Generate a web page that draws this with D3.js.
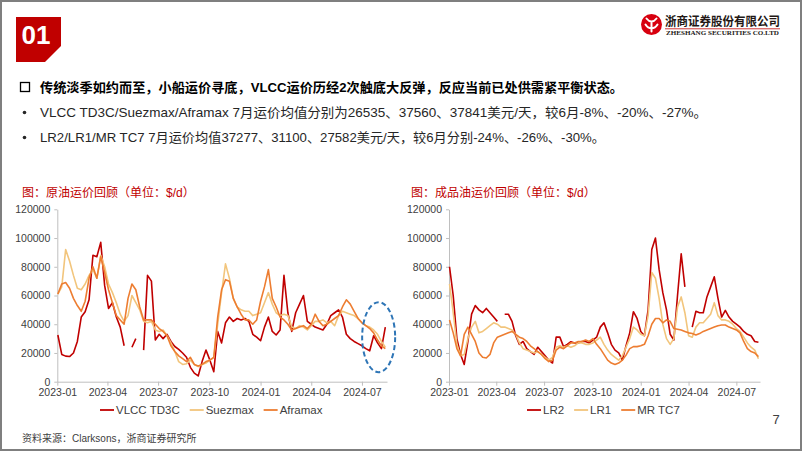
<!DOCTYPE html>
<html>
<head>
<meta charset="utf-8">
<script src="https://cdn.jsdelivr.net/npm/d3@7"></script>
<style>
  html, body { margin: 0; padding: 0; background: #fff; }
  svg { display: block; font-family: "Liberation Sans", Arial, "Noto Sans CJK SC", sans-serif; }
</style>
</head>
<body>
<svg id="page" width="802" height="451"></svg>
<script>
// weekly samples from 2023-01-02, values in thousand $/d (null = no quote)
const UNIT = 1000
const startDate = new Date(2023, 0, 2)

// 原油
const vlcc = [32.5,19,17.8,17.5,20,28,45,48.7,57,88,87,97,67,51,55,45,38,25,null,24,30,null,22,74,70,29,33,30,33,28,24.5,22.5,20,17,10,6,4,14,22,15,7,35,27,41,45,42,44,43,44,42,33,31,28.5,38,45,35,32.5,36,74,48,35,48,54,60,42,40,38,37,36,40,46,48,50,45,33,30,28,26.5,25,23,21.5,32,27,23,38]
const suezmax = [61,66,92,84,74,65,64,68,74,78,72,88,80,68,62,55,47,42,46,60,55,50,42,41,42,36,35,36,32,27,21,14,12,12.5,15,12,10.5,12,13,15,17,40,62,82,72,58,52,50,49,49,46,47,48,55,62,54,48,46,47,46,38,37,39,38,36,39,42,42,43,41,42,39,46,49,48,47,46,44,41,39,38,36,33,28,24]
const aframax = [61,68,69,65,58,53,49,56,72,80,72,87,76,64,55,46,43,40,58,68,64,52,43,43,43,40,37,35,32,25,21,18,16,14,17,12,11,12,14,15,17,45,64,71,70,58,52,47,43,43,40,43,56,66,78,58,52,45,43,40,36,37,38,39,37,40,47,42,39,40,42,44,46,52,57,54,49,44,41,39,37,34,29,25,23]

// 成品油
const lr2 = [80,60,30,19,12,28,47,53,50,48,51,48,45,42,null,47,47,42,32,26,28,23,21,19,24,21,18,15,13,31,31,24.4,26,27.8,27,27,28,28,27,29,31,38,41,34,26,22,20,15,25,34,48.7,44,35,32,50,92,100,78,62,50,33,29,60,89,66,null,38,49,48,48,59,66,73,58,45,49.6,45,42,40,38,35,33,32,28,27.5]
const lr1 = [68,48,26,18,19,30,38,42,34,35,37,39,41,40,38,38,37,36,33,27,23,22,21,20,21,19,17,15,17,24,25,24,25,24,25,27,27,26,26,27,29,31,26,22,19,17,15,18,24,30,38,36,33,32,46,76,72,58,40,30,26,30,52,59,48,32,31,38,41,41,44,47,55,46,43,43,42,40,37,35,31,27,24,22,16]
const mrTc7 = [43,34,23,18,33,38,33,28,20,17,16.5,19,27,31,32,33,34,35,33,31,30,28,25,23,21,19,16,14,15,22,24,23,25,27,27,28,28,29,28,30,26,23,19,15,13,12,13,15,18.5,23,24.4,24.4,25,26,32,40,44,44,41,43,42,37,36.5,36,35,34,33.5,32.5,33.5,35,36,37,38,39,39.5,39.5,38,37,36,34,28,23,21,20,17.5]

const crudeNames = ['VLCC TD3C', 'Suezmax', 'Aframax']
const productNames = ['LR2', 'LR1', 'MR TC7']
const seriesColors = ['#c00000', '#f2c57c', '#ed7d31']

const yTicks = [0, 20000, 40000, 60000, 80000, 100000, 120000]
const xTickLabels = ['2023-01', '2023-04', '2023-07', '2023-10', '2024-01', '2024-04', '2024-07']

const headline = '传统淡季如约而至，小船运价寻底，VLCC运价历经2次触底大反弹，反应当前已处供需紧平衡状态。'
const bullets = [
  'VLCC TD3C/Suezmax/Aframax 7月运价均值分别为26535、37560、37841美元/天，较6月-8%、-20%、-27%。',
  'LR2/LR1/MR TC7 7月运价均值37277、31100、27582美元/天，较6月分别-24%、-26%、-30%。'
]
const titles = ['图：原油运价回顾（单位：$/d）', '图：成品油运价回顾（单位：$/d）']
const source = '资料来源：Clarksons，浙商证券研究所'

const parseMonth = d3.timeParse('%Y-%m')
const weeks = vlcc.map((d, i) => d3.timeDay.offset(startDate, 7 * i))

const svg = d3.select('#page')

// frame
svg.append('rect').attr('x', 1).attr('y', 1).attr('width', 800).attr('height', 449)
  .attr('fill', '#fff').attr('stroke', '#7f7f7f').attr('stroke-width', 2)

// 01 badge
svg.append('path')
  .attr('d', 'M16,17 L61,17 L61,46 L45,62 L16,62 Z')
  .attr('fill', '#c00000')
svg.append('text').attr('x', 36).attr('y', 44)
  .attr('text-anchor', 'middle').attr('fill', '#fff')
  .style('font-size', '26px').style('font-weight', 'bold')
  .text('01')

// logo
const logo = svg.append('g').attr('transform', 'translate(651.5,24.5)')
logo.append('circle').attr('r', 10.5).attr('fill', '#d7000f')
logo.append('path')
  .attr('d', 'M-5,-6 C-2,-2 2,-2 5,-6 M-6,0 C-3,5 3,5 6,0 M0,-3 L0,7')
  .attr('fill', 'none').attr('stroke', '#fff').attr('stroke-width', 2).attr('stroke-linecap', 'round')
svg.append('text').attr('x', 665).attr('y', 26)
  .attr('textLength', 115).attr('lengthAdjust', 'spacingAndGlyphs')
  .attr('fill', '#231815').style('font-size', '12.5px').style('font-weight', 'bold')
  .style('font-family', '"Noto Sans CJK SC", sans-serif')
  .text('浙商证券股份有限公司')
svg.append('line').attr('x1', 665).attr('x2', 780).attr('y1', 28.8).attr('y2', 28.8)
  .attr('stroke', '#c00000').attr('stroke-width', 0.8)
svg.append('text').attr('x', 666).attr('y', 35)
  .attr('textLength', 113).attr('lengthAdjust', 'spacingAndGlyphs')
  .attr('fill', '#231815').style('font-size', '5.6px').style('font-weight', 'bold')
  .style('font-family', '"Liberation Serif", serif')
  .text('ZHESHANG SECURITIES CO.LTD')

// text block
svg.append('rect').attr('x', 20.5).attr('y', 82.5).attr('width', 9).attr('height', 9)
  .attr('fill', 'none').attr('stroke', '#000').attr('stroke-width', 1.3)
svg.append('text').attr('x', 40).attr('y', 92)
  .attr('textLength', 583).attr('lengthAdjust', 'spacingAndGlyphs')
  .style('font-size', '13px').style('font-weight', 'bold').attr('fill', '#000')
  .text(headline)
const bulletWidths = [667, 565]
bullets.forEach((b, i) => {
  const y = 117 + i * 25
  svg.append('circle').attr('cx', 24.5).attr('cy', y - 4.5).attr('r', 1.8).attr('fill', '#262626')
  svg.append('text').attr('x', 40).attr('y', y)
    .attr('textLength', bulletWidths[i]).attr('lengthAdjust', 'spacingAndGlyphs')
    .style('font-size', '13px').attr('fill', '#262626')
    .text(b)
})

// charts
function drawChart(cfg) {
  const x = d3.scaleTime()
    .domain([new Date(2023, 0, 1), new Date(2024, 7, 15)])
    .range([cfg.left, cfg.right])
  const y = d3.scaleLinear().domain([0, 120000]).range([381.7, 209.3])

  const g = svg.append('g')

  // title
  g.append('text').attr('x', cfg.titleX).attr('y', 197)
    .style('font-size', '12px').attr('fill', '#c00000')
    .text(cfg.title)

  const yAxis = d3.axisLeft(y).tickValues(yTicks).tickFormat(d3.format('d'))
    .tickSize(3).tickSizeOuter(0).tickPadding(4)
  const xAxis = d3.axisBottom(x).tickValues(xTickLabels.map(parseMonth))
    .tickFormat(d3.timeFormat('%Y-%m')).tickSize(4).tickSizeOuter(0).tickPadding(3)

  const ya = g.append('g').attr('transform', `translate(${cfg.left},0)`).call(yAxis)
  const xa = g.append('g').attr('transform', 'translate(0,381.7)').call(xAxis)
  ;[ya, xa].forEach(a => {
    a.select('.domain').attr('stroke', '#bfbfbf')
    a.selectAll('.tick line').attr('stroke', '#bfbfbf')
    a.selectAll('.tick text').attr('fill', '#404040')
      .style('font-size', '10.5px').style('font-family', '"Liberation Sans", Arial, sans-serif')
  })

  const line = d3.line()
    .defined(d => d.v !== null)
    .x(d => x(d.date))
    .y(d => y(d.v * UNIT))

  cfg.series.forEach((s, i) => {
    const pts = s.map((v, j) => ({ date: weeks[j], v: v }))
    g.append('path').datum(pts)
      .attr('d', line)
      .attr('fill', 'none')
      .attr('stroke', seriesColors[i])
      .attr('stroke-width', 1.6)
      .attr('stroke-linejoin', 'round')
  })

  // legend
  const lg = g.append('g').attr('transform', `translate(${cfg.legendX},410)`)
  let cx = 0
  cfg.names.forEach((n, i) => {
    lg.append('line').attr('x1', cx).attr('x2', cx + 14).attr('y1', 0).attr('y2', 0)
      .attr('stroke', seriesColors[i]).attr('stroke-width', 1.8)
    const t = lg.append('text').attr('x', cx + 16).attr('y', 4)
      .style('font-size', '11.5px').attr('fill', '#404040')
      .text(n)
    cx += 16 + t.node().getComputedTextLength() + 10
  })

  return { x, y, g }
}

const crude = drawChart({
  left: 57.3, right: 387, titleX: 22, title: titles[0], legendX: 100,
  series: [vlcc, suezmax, aframax], names: crudeNames
})
drawChart({
  left: 449, right: 760, titleX: 411, title: titles[1], legendX: 527,
  series: [lr2, lr1, mrTc7], names: productNames
})

// highlight of the last weeks on crude chart
crude.g.append('ellipse')
  .attr('cx', crude.x(new Date(2024, 6, 31)))
  .attr('cy', crude.y(31000))
  .attr('rx', 16.5).attr('ry', 35)
  .attr('fill', 'none').attr('stroke', '#2e75b6')
  .attr('stroke-width', 2).attr('stroke-dasharray', '5,3')

// page number & source
svg.append('text').attr('x', 776).attr('y', 424).attr('text-anchor', 'middle')
  .style('font-size', '13px').attr('fill', '#404040').text('7')
svg.append('text').attr('x', 22).attr('y', 442)
  .style('font-size', '10px').attr('fill', '#404040').text(source)
</script>
</body>
</html>
